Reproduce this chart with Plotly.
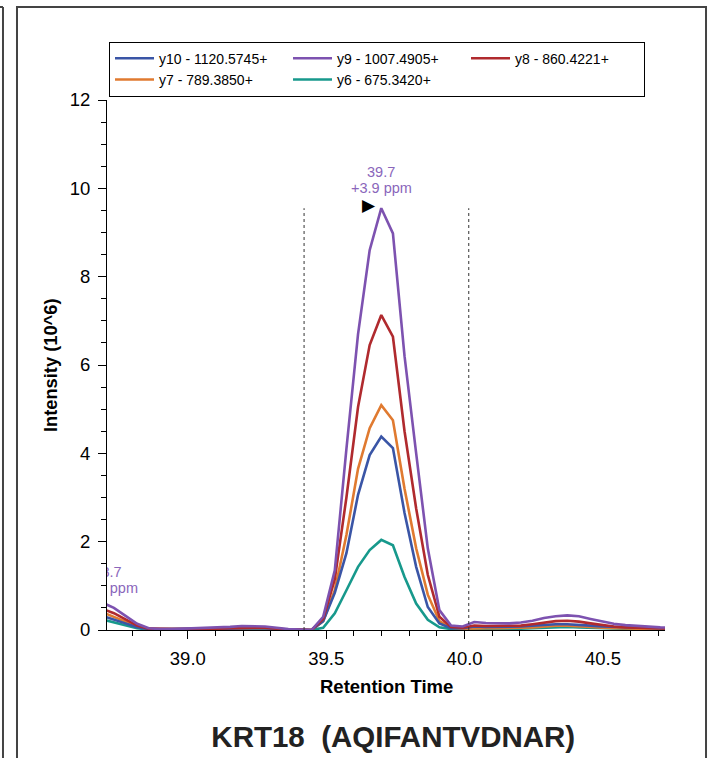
import plotly.graph_objects as go

# Retention times (min)
times = [38.691, 38.733, 38.775, 38.817, 38.859, 38.901, 38.943, 38.985, 39.027, 39.069,
         39.111, 39.153, 39.195, 39.237, 39.279, 39.321, 39.363, 39.405, 39.447, 39.489,
         39.531, 39.573, 39.615, 39.657, 39.699, 39.741, 39.783, 39.825, 39.867, 39.909,
         39.951, 39.993, 40.035, 40.077, 40.119, 40.161, 40.203, 40.245, 40.287, 40.329,
         40.371, 40.413, 40.455, 40.497, 40.539, 40.581, 40.623, 40.665, 40.707, 40.749]

# Intensities (10^6)
y10 = [0.32, 0.24, 0.15, 0.06, 0.02, 0.02, 0.02, 0.02, 0.02, 0.02,
       0.02, 0.03, 0.04, 0.04, 0.04, 0.02, 0.01, 0.01, 0.00, 0.20,
       0.84, 1.74, 3.06, 3.96, 4.38, 4.12, 2.65, 1.43, 0.52, 0.15,
       0.04, 0.04, 0.08, 0.07, 0.07, 0.07, 0.08, 0.10, 0.12, 0.13,
       0.13, 0.12, 0.10, 0.08, 0.07, 0.06, 0.05, 0.04, 0.04, 0.04]
y9 = [0.62, 0.50, 0.32, 0.14, 0.04, 0.02, 0.02, 0.03, 0.03, 0.04,
      0.05, 0.07, 0.09, 0.09, 0.08, 0.05, 0.02, 0.01, 0.00, 0.30,
      1.35, 4.10, 6.70, 8.60, 9.55, 8.98, 6.20, 4.00, 1.85, 0.45,
      0.10, 0.08, 0.18, 0.16, 0.15, 0.15, 0.17, 0.21, 0.27, 0.31,
      0.33, 0.31, 0.25, 0.19, 0.14, 0.11, 0.09, 0.07, 0.06, 0.05]
y8 = [0.48, 0.38, 0.24, 0.10, 0.03, 0.02, 0.02, 0.02, 0.02, 0.03,
      0.03, 0.04, 0.05, 0.05, 0.05, 0.03, 0.01, 0.01, 0.00, 0.25,
      1.15, 3.00, 5.05, 6.45, 7.13, 6.64, 4.50, 2.75, 1.25, 0.30,
      0.07, 0.05, 0.10, 0.09, 0.09, 0.09, 0.10, 0.13, 0.17, 0.20,
      0.21, 0.19, 0.15, 0.11, 0.08, 0.06, 0.05, 0.04, 0.04, 0.03]
y7 = [0.40, 0.30, 0.19, 0.08, 0.02, 0.02, 0.02, 0.02, 0.02, 0.02,
      0.03, 0.03, 0.04, 0.04, 0.04, 0.02, 0.01, 0.01, 0.00, 0.20,
      0.90, 2.15, 3.65, 4.57, 5.09, 4.75, 3.20, 1.85, 0.80, 0.20,
      0.05, 0.03, 0.04, 0.04, 0.04, 0.04, 0.05, 0.06, 0.08, 0.10,
      0.10, 0.09, 0.07, 0.05, 0.04, 0.03, 0.03, 0.03, 0.02, 0.02]
y6 = [0.24, 0.17, 0.10, 0.04, 0.01, 0.01, 0.01, 0.01, 0.01, 0.01,
      0.01, 0.02, 0.02, 0.02, 0.02, 0.01, 0.01, 0.00, 0.00, 0.05,
      0.38, 0.90, 1.43, 1.81, 2.04, 1.92, 1.20, 0.60, 0.23, 0.06,
      0.02, 0.02, 0.02, 0.02, 0.02, 0.02, 0.03, 0.04, 0.05, 0.07,
      0.07, 0.06, 0.05, 0.04, 0.03, 0.03, 0.02, 0.02, 0.02, 0.02]

series_names = ["y10 - 1120.5745+", "y9 - 1007.4905+", "y8 - 860.4221+",
                "y7 - 789.3850+", "y6 - 675.3420+"]
series_values = [y10, y9, y8, y7, y6]
series_colors = ["#3a55a6", "#7d52b0", "#b02a2e", "#e07a30", "#17998c"]
draw_order = [4, 3, 0, 2, 1]

peak_rt_label = "39.7"
peak_ppm_label = "+3.9 ppm"
edge_label_rt = 38.710
edge_label_ys = [1.29, 0.91]
edge_labels = ["38.7", "+1.7 ppm"]
boundary_left = 39.42
boundary_right = 40.015
title_text = "<b>KRT18  (AQIFANTVDNAR)</b>"

FONT = "Liberation Sans, Arial, sans-serif"
LABEL_PURPLE = "#8a66bb"
fig = go.Figure()

for i in draw_order:
    fig.add_trace(go.Scatter(
        x=times, y=series_values[i], mode="lines", name=series_names[i],
        line=dict(color=series_colors[i], width=2.6), legendrank=i + 1,
        cliponaxis=True))

# clipped label at left edge of the window
fig.add_trace(go.Scatter(x=[edge_label_rt] * 2, y=edge_label_ys, mode="text",
                         text=edge_labels, textfont=dict(color=LABEL_PURPLE, size=14.5, family=FONT),
                         showlegend=False, cliponaxis=True, hoverinfo="skip"))

apex_i = y9.index(max(y9))
apex_t, apex_v = times[apex_i], y9[apex_i]

for b in (boundary_left, boundary_right):
    fig.add_shape(type="line", x0=b, x1=b, y0=0, y1=apex_v, xref="x", yref="y",
                  line=dict(color="#333", width=1, dash="dot"))

fig.add_annotation(x=apex_t, y=apex_v, text=peak_rt_label, showarrow=False,
                   yanchor="middle", yshift=36, font=dict(color=LABEL_PURPLE, size=14.5, family=FONT))
fig.add_annotation(x=apex_t, y=apex_v, text=peak_ppm_label, showarrow=False,
                   yanchor="middle", yshift=20, font=dict(color=LABEL_PURPLE, size=14.5, family=FONT))
fig.add_annotation(x=apex_t, y=apex_v, text="\u25B6", showarrow=False,
                   xshift=-12, yshift=3, font=dict(color="black", size=17, family="DejaVu Sans"))

# axis titles
fig.add_annotation(x=-0.102, y=0.5, xref="paper", yref="paper", text="<b>Intensity (10^6)</b>",
                   textangle=-90, showarrow=False, xanchor="center", yanchor="middle",
                   font=dict(size=18.3, family=FONT, color="black"))
fig.add_annotation(x=0.5, y=-0.1057, xref="paper", yref="paper", text="<b>Retention Time</b>",
                   showarrow=False, xanchor="center", yanchor="middle",
                   font=dict(size=18.5, family=FONT, color="black"))

# panel frame
fx0, fx1, fy1, fy0 = -0.1613, 1.0735, 1.1755, -0.35
fig.add_shape(type="rect", xref="paper", yref="paper", x0=fx0, x1=fx1, y0=fy0, y1=fy1,
              line=dict(color="#444", width=2), layer="below")
fig.add_shape(type="line", xref="paper", yref="paper", x0=-0.1864, x1=-0.1864, y0=fy0, y1=fy1,
              line=dict(color="#444", width=2))
fig.add_shape(type="line", xref="paper", yref="paper", x0=-0.2, x1=-0.1864, y0=fy1, y1=fy1,
              line=dict(color="#444", width=2))

fig.update_layout(
    width=709, height=758,
    margin=dict(l=107, r=44, t=100, b=128),
    plot_bgcolor="white", paper_bgcolor="white",
    font=dict(family=FONT, color="black"),
    title=dict(text=title_text, x=0.513, xref="paper", y=0.028, yref="container",
               xanchor="center", yanchor="middle", font=dict(size=29.5, family=FONT, color="#222")),
    legend=dict(orientation="h", x=0.0036, y=1.11, xanchor="left", yanchor="top",
                entrywidth=124, itemwidth=39, bordercolor="black", borderwidth=1,
                font=dict(size=14, family=FONT), tracegroupgap=0),
    showlegend=True,
)
fig.update_xaxes(range=[38.708, 40.724], showgrid=False, zeroline=False,
                 showline=True, linecolor="black", linewidth=1,
                 tick0=39.0, dtick=0.5, tickformat=".1f", ticks="outside", ticklen=8,
                 tickcolor="black", tickfont=dict(size=18.5), ticklabelstandoff=4,
                 minor=dict(dtick=0.1, ticks="outside", ticklen=5, tickcolor="black"))
fig.update_yaxes(range=[0, 12], showgrid=False, zeroline=False,
                 showline=True, linecolor="black", linewidth=1,
                 tick0=0, dtick=2, ticks="outside", ticklen=8, tickcolor="black",
                 tickfont=dict(size=18.5), ticklabelstandoff=4,
                 minor=dict(dtick=0.5, ticks="outside", ticklen=5, tickcolor="black"))

fig.write_html("out.html")
